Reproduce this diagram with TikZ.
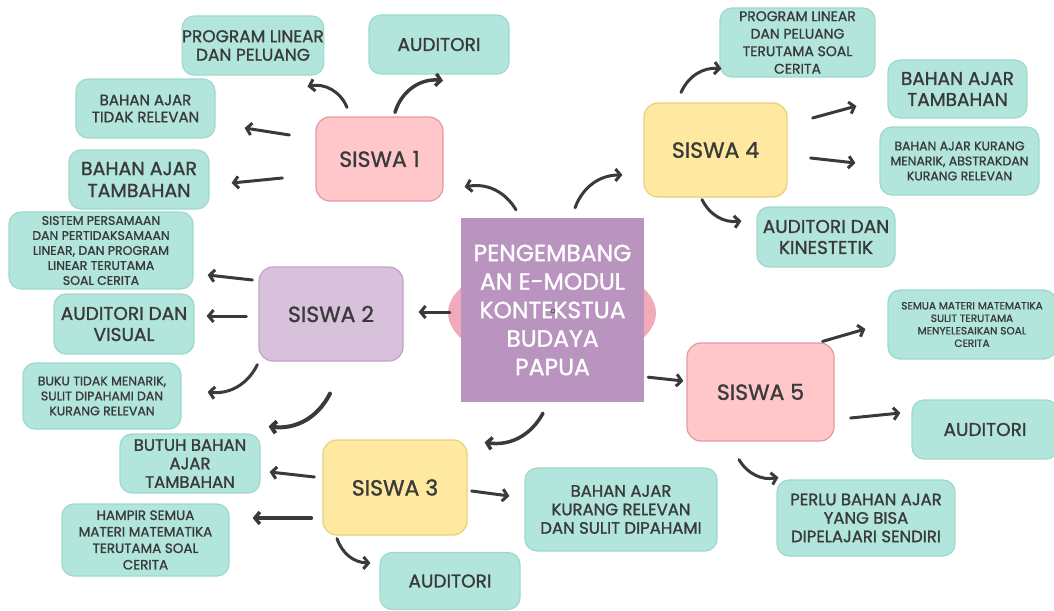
\documentclass[tikz,border=0pt]{standalone}
\usepackage{fontspec}
\setmainfont{Poppins}[FakeBold=1.2]
\usetikzlibrary{arrows.meta,shapes.geometric}

\definecolor{ink}{HTML}{3A3A3A}
\definecolor{tealfill}{HTML}{B2E5DB}
\definecolor{tealline}{HTML}{9ED9CC}
\definecolor{pinkfill}{HTML}{FFC7C9}
\definecolor{pinkline}{HTML}{E29A9E}
\definecolor{lilacfill}{HTML}{D8C1DA}
\definecolor{lilacline}{HTML}{C2A0C7}
\definecolor{sunfill}{HTML}{FFE9A0}
\definecolor{sunline}{HTML}{E9CF79}
\definecolor{hubfill}{HTML}{B994BF}
\definecolor{blush}{HTML}{F1AAB9}

\begin{document}
\begin{tikzpicture}
    [
    x=1pt, y=-1pt,
    siswa/.style={draw, line width=1.2pt, rounded corners=14pt, align=center, text=ink,
      inner sep=0pt, font=\fontsize{22}{26}\selectfont},
    leaf/.style={draw=tealline, fill=tealfill, line width=1.2pt, rounded corners=12pt,
      align=center, text=ink, inner sep=0pt},
    big/.style={font=\fontsize{18.5}{21}\selectfont},
    mid/.style={font=\fontsize{16.5}{18.5}\selectfont},
    small/.style={font=\fontsize{13.5}{16.5}\selectfont},
    tiny/.style={font=\fontsize{12.5}{15}\selectfont},
    link/.style={draw=ink, line width=3pt, line cap=round, -{Straight Barb[length=5pt,width=12pt]}}
    ]
    \useasboundingbox (0,0) rectangle (1054,610);
    % centre
    \node (E) at (552,313) [ellipse, fill=blush, minimum width=208pt, minimum height=104pt] {};
    \node (C) at (552.5,310) [fill=hubfill, minimum width=183pt, minimum height=184pt, inner sep=0pt,
      align=center, text=white, font=\fontsize{23.5}{28.5}\selectfont]
      {PENGEMBANG\\AN E-MODUL\\KONTEKSTUA\\BUDAYA\\PAPUA};
    \node (dot) at (553,311) [circle, draw=ink, line width=0.6pt, inner sep=0pt, minimum size=4pt] {};
    % students
    \node (S1) at (379.5,159) [siswa, fill=pinkfill, draw=pinkline, minimum width=127pt, minimum height=84pt] {SISWA 1};
    \node (S2) at (331,314) [siswa, fill=lilacfill, draw=lilacline, minimum width=144pt, minimum height=94pt] {SISWA 2};
    \node (S3) at (395,487.5) [siswa, fill=sunfill, draw=sunline, minimum width=144pt, minimum height=95pt] {SISWA 3};
    \node (S4) at (715.5,150) [siswa, fill=sunfill, draw=sunline, minimum width=143pt, minimum height=94pt] {SISWA 4};
    \node (S5) at (760.5,392) [siswa, fill=pinkfill, draw=pinkline, minimum width=147pt, minimum height=98pt] {SISWA 5};
    % notes
    \node (T1) at (253,45.5) [leaf, font=\fontsize{17}{18.5}\selectfont, minimum width=140pt, minimum height=59pt] {PROGRAM LINEAR\\DAN PELUANG};
    \node (T2) at (439,44.5) [leaf, big, minimum width=140pt, minimum height=59pt] {AUDITORI};
    \node (T3) at (145.5,108.5) [leaf, font=\fontsize{15}{17}\selectfont, minimum width=139pt, minimum height=59pt] {BAHAN AJAR\\TIDAK RELEVAN};
    \node (T4) at (139,179.5) [leaf, font=\fontsize{19}{22}\selectfont, minimum width=140pt, minimum height=59pt] {BAHAN AJAR\\TAMBAHAN};
    \node (T5) at (101,250.5) [leaf, tiny, minimum width=184pt, minimum height=77pt]
      {SISTEM PERSAMAAN\\DAN PERTIDAKSAMAAN\\LINEAR, DAN PROGRAM\\LINEAR TERUTAMA\\SOAL CERITA};
    \node (T6) at (124,324) [leaf, big, minimum width=140pt, minimum height=60pt] {AUDITORI DAN\\VISUAL};
    \node (T7) at (102,396) [leaf, tiny, minimum width=158pt, minimum height=66pt] {BUKU TIDAK MENARIK,\\SULIT DIPAHAMI DAN\\KURANG RELEVAN};
    \node (T8) at (190,463.5) [leaf, mid, minimum width=140pt, minimum height=59pt] {BUTUH BAHAN\\AJAR\\TAMBAHAN};
    \node (T9) at (145.5,540) [leaf, small, minimum width=167pt, minimum height=72pt] {HAMPIR SEMUA\\MATERI MATEMATIKA\\TERUTAMA SOAL\\CERITA};
    \node (T10) at (450,581) [leaf, big, minimum width=140pt, minimum height=57pt] {AUDITORI};
    \node (T11) at (621,509.5) [leaf, mid, minimum width=192pt, minimum height=83pt] {BAHAN AJAR\\KURANG RELEVAN\\DAN SULIT DIPAHAMI};
    \node (T12) at (866,518) [leaf, mid, minimum width=178pt, minimum height=76pt] {PERLU BAHAN AJAR\\YANG BISA\\DIPELAJARI SENDIRI};
    \node (T13) at (985,429.5) [leaf, big, minimum width=146pt, minimum height=59pt] {AUDITORI};
    \node (T14) at (972,324.5) [leaf, font=\fontsize{10.5}{12.5}\selectfont, minimum width=168pt, minimum height=69pt]
      {SEMUA MATERI MATEMATIKA\\SULIT TERUTAMA\\MENYELESAIKAN SOAL\\CERITA};
    \node (T15) at (797.5,42.5) [leaf, font=\fontsize{14}{17.5}\selectfont, minimum width=155pt, minimum height=69pt]
      {PROGRAM LINEAR\\DAN PELUANG\\TERUTAMA SOAL\\CERITA};
    \node (T16) at (957.5,89) [leaf, big, minimum width=139pt, minimum height=58pt] {BAHAN AJAR\\TAMBAHAN};
    \node (T17) at (959.5,161) [leaf, tiny, minimum width=159pt, minimum height=68pt] {BAHAN AJAR KURANG\\MENARIK, ABSTRAKDAN\\KURANG RELEVAN};
    \node (T18) at (826,237) [leaf, big, minimum width=138pt, minimum height=60pt] {AUDITORI DAN\\KINESTETIK};
    % arrows
    \draw [link] ([shift={(-36.5,-8)}]C.north) to [bend right=35] ([shift={(21,28)}]S1.east);
    \draw [link] ([shift={(22.5,-10)}]C.north) to [bend left=35] ([shift={(-21,25)}]S4.west);
    \draw [link] ([shift={(-11,2)}]C.west) to ([shift={(15,-2)}]S2.east);
    \draw [link, line width=3.5pt] ([shift={(-9.5,11)}]C.south) to [bend left=35] ([shift={(17,3)}]S3.north east);
    \draw [link] ([shift={(4,-25)}]C.south east) to ([shift={(-3,-11)}]S5.west);
    \draw [link] ([shift={(-32.5,-9)}]S1.north) to [bend right=40] ([shift={(-17,11)}]T1.south east);
    \draw [link, line width=3.5pt] ([shift={(15.5,-4)}]S1.north) to [bend left=40] ([shift={(4,6)}]T2.south);
    \draw [link] ([shift={(-26,-24)}]S1.west) to ([shift={(29,19.5)}]T3.east);
    \draw [link] ([shift={(-33,19)}]S1.west) to ([shift={(22,3.5)}]T4.east);
    \draw [link] ([shift={(-6,-34)}]S2.west) to ([shift={(14,24.5)}]T5.east);
    \draw [link] ([shift={(-12,2)}]S2.west) to ([shift={(12,-8)}]T6.east);
    \draw [link] ([shift={(-1,3)}]S2.south west) to [bend left=35] ([shift={(26,-4)}]T7.east);
    \draw [link, line width=4pt] ([shift={(-1,32)}]S2.south) to [bend left=35] ([shift={(8,-7)}]T8.north east);
    \draw [link] ([shift={(-8,-10.5)}]S3.west) to ([shift={(9,8.5)}]T8.east);
    \draw [link, line width=3.5pt] ([shift={(-11,30.5)}]S3.west) to ([shift={(23,-22)}]T9.east);
    \draw [link] ([shift={(-58,3)}]S3.south) to [bend right=35] ([shift={(-9,-18)}]T10.west);
    \draw [link] ([shift={(4,3.5)}]S3.east) to ([shift={(-15,-13.5)}]T11.west);
    \draw [link] ([shift={(-34.5,-10)}]S4.north) to [bend left=35] ([shift={(2,-9)}]T15.south west);
    \draw [link] ([shift={(25,-32)}]S4.east) to ([shift={(-31,17)}]T16.west);
    \draw [link] ([shift={(23,8)}]S4.east) to ([shift={(-24,2)}]T17.west);
    \draw [link] ([shift={(-13.5,2)}]S4.south) to [bend right=35] ([shift={(-15,-16)}]T18.west);
    \draw [link] ([shift={(-12,-1)}]S5.north east) to ([shift={(-22,4.5)}]T14.west);
    \draw [link] ([shift={(16,26)}]S5.east) to ([shift={(-11,-16.5)}]T13.west);
    \draw [link] ([shift={(-21.5,18)}]S5.south) to [bend right=35] ([shift={(2,-2)}]T12.north west);
\end{tikzpicture}
\end{document}
